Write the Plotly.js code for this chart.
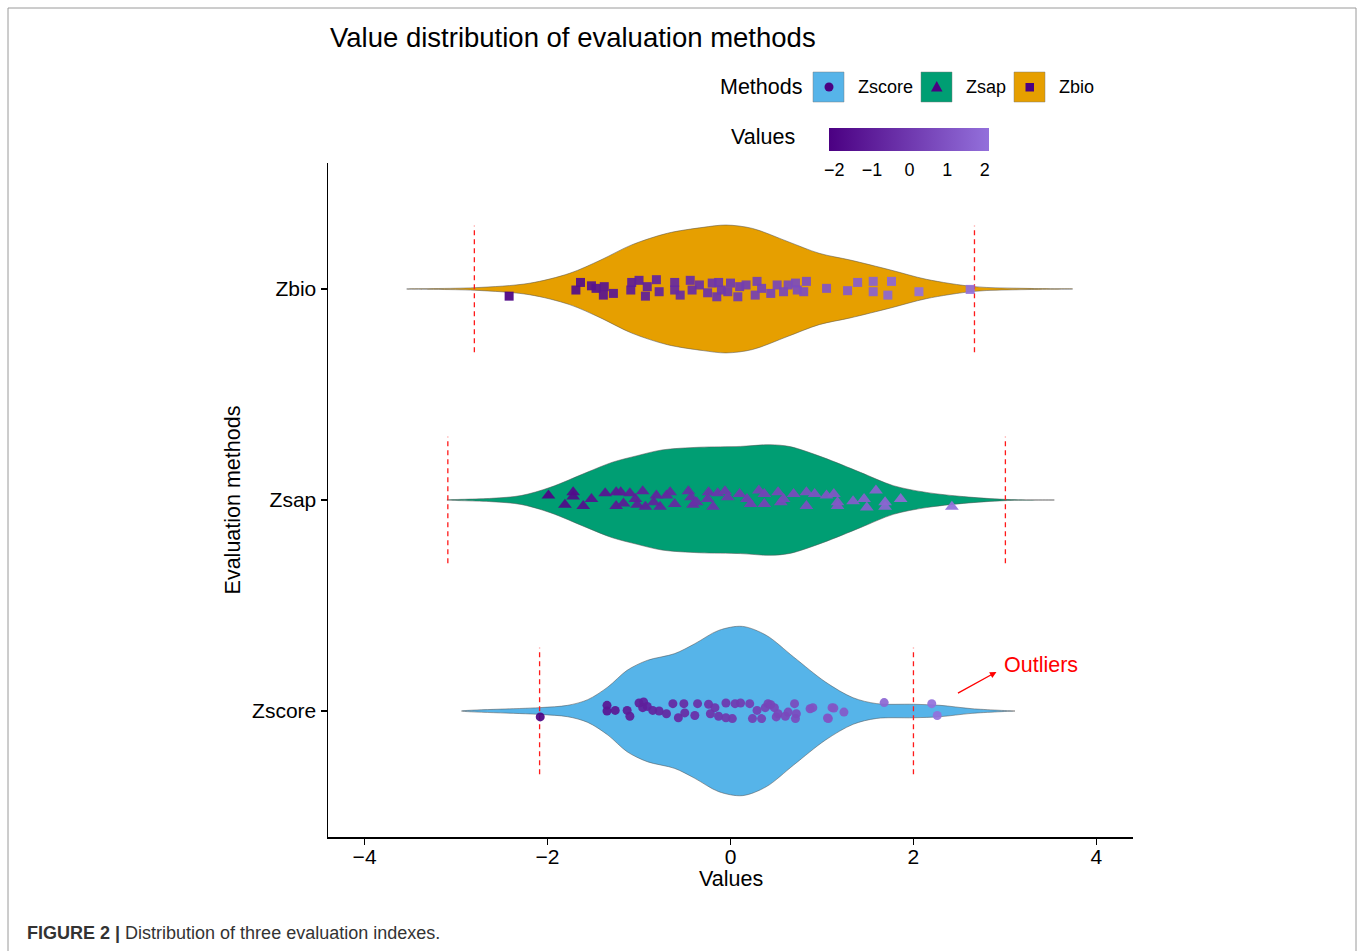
<!DOCTYPE html>
<html><head><meta charset="utf-8">
<script src="https://cdn.plot.ly/plotly-3.0.1.min.js"></script>
<style>html,body{margin:0;padding:0;background:#fff}#chart{width:1358px;height:951px}</style>
</head><body><div id="chart"></div>
<script>
// ---------- data ----------
const methods = ['Zscore', 'Zsap', 'Zbio'];
const fillColors = ['#56B4E9', '#009E73', '#E69F00'];
const symbols = ['circle', 'triangle-up', 'square'];

// outlier cut-offs (red dashed lines)
const cutLow  = [-2.087, -3.09, -2.80];
const cutHigh = [2.00, 3.005, 2.667];

// violin outline: value positions and half-widths (category units)
const zscoreProfX = [-2.94,-2.09,-1.78,-1.56,-1.34,-1.13,-0.91,-0.61,-0.39,-0.13,0.13,0.39,0.69,1.04,1.34,1.60,2.00,2.29,2.64,3.11];
const zscoreProfW = [0,0.016,0.027,0.054,0.114,0.193,0.240,0.272,0.319,0.382,0.401,0.359,0.256,0.137,0.063,0.035,0.032,0.027,0.011,0];
const zsapProfX = [-3.10,-2.61,-2.29,-1.97,-1.57,-1.29,-1.02,-0.75,-0.34,0.11,0.43,0.65,1.01,1.42,1.78,2.14,2.55,3.00,3.54];
const zsapProfW = [0,0.008,0.021,0.060,0.131,0.179,0.210,0.237,0.250,0.254,0.262,0.253,0.202,0.131,0.068,0.036,0.016,0.003,0];
const zbioProfX = [-3.54,-2.80,-2.20,-1.76,-1.42,-1.08,-0.69,-0.30,-0.05,0.24,0.63,0.97,1.31,1.75,2.14,2.67,3.22,3.74];
const zbioProfW = [0,0.006,0.027,0.074,0.137,0.209,0.264,0.292,0.303,0.287,0.224,0.169,0.137,0.090,0.046,0.011,0.003,0];

// observed points: value and vertical jitter
const zscoreVals = [-2.08,-1.35,-1.35,-1.26,-1.13,-1.10,-1.00,-0.95,-0.96,-0.91,-0.85,-0.78,-0.70,-0.63,-0.57,-0.51,-0.50,-0.39,-0.36,-0.24,-0.22,-0.17,-0.13,-0.05,-0.05,0.02,0.05,0.11,0.21,0.24,0.29,0.34,0.38,0.41,0.44,0.48,0.50,0.52,0.60,0.63,0.70,0.72,0.71,0.87,0.90,1.06,1.07,1.11,1.13,1.24,1.68,2.20,2.26];
const zscoreJit  = [-0.028,0.027,0.000,0.003,0.003,-0.025,0.038,0.043,0.016,0.022,0.003,0.000,-0.013,0.035,-0.032,0.035,-0.009,-0.021,0.035,0.032,-0.013,0.016,-0.025,0.038,-0.032,-0.036,0.035,0.038,0.035,-0.036,0.003,-0.036,0.016,0.035,0.030,0.016,-0.028,-0.013,-0.025,-0.005,0.035,-0.013,-0.036,0.011,0.016,-0.033,-0.036,0.016,0.014,-0.005,0.040,0.035,-0.021];

const zsapVals = [-1.99,-1.72,-1.72,-1.81,-1.61,-1.52,-1.37,-1.25,-1.20,-1.25,-1.17,-1.10,-1.04,-1.02,-0.96,-0.93,-0.81,-0.77,-0.84,-0.70,-0.66,-0.61,-0.46,-0.43,-0.41,-0.37,-0.24,-0.25,-0.19,-0.14,-0.06,-0.03,0.10,0.18,0.22,0.31,0.37,0.37,0.52,0.55,0.58,0.69,0.83,0.83,0.92,1.05,1.13,1.17,1.17,1.34,1.46,1.49,1.59,1.69,1.69,1.86,2.42];
const zsapJit  = [0.021,0.037,0.016,-0.023,-0.028,0.005,0.032,0.037,0.037,-0.028,-0.016,0.032,0.005,-0.023,0.042,-0.032,0.021,-0.032,-0.011,0.021,0.037,-0.019,0.042,0.013,-0.023,-0.011,0.037,0.005,-0.032,0.032,0.041,0.013,0.029,0.005,-0.019,0.045,0.029,-0.019,0.037,-0.011,0.005,0.029,0.037,-0.028,0.029,0.021,0.029,-0.011,-0.028,-0.006,0.005,-0.036,0.045,-0.011,-0.032,0.005,-0.032];

const zbioVals = [-2.42,-1.69,-1.64,-1.52,-1.47,-1.38,-1.39,-1.28,-1.08,-1.09,-1.00,-0.93,-0.91,-0.81,-0.78,-0.61,-0.61,-0.55,-0.44,-0.42,-0.34,-0.25,-0.20,-0.15,-0.13,-0.10,0.00,-0.03,0.08,0.10,0.17,0.27,0.29,0.34,0.44,0.51,0.58,0.63,0.71,0.73,0.83,0.80,1.05,1.28,1.39,1.56,1.56,1.72,1.76,2.06,2.62];
const zbioJit  = [-0.034,-0.005,0.031,0.015,0.003,0.011,-0.029,-0.021,0.031,-0.005,0.041,-0.034,0.011,0.044,-0.013,0.031,-0.005,-0.029,0.041,-0.005,0.019,-0.018,0.028,-0.037,0.031,-0.005,0.028,-0.013,-0.037,0.011,0.019,-0.029,0.036,0.003,-0.021,0.019,-0.013,0.019,0.028,-0.005,0.036,-0.013,0.003,-0.008,0.031,0.036,-0.013,-0.029,0.036,-0.013,-0.002];

const xTicks = [-4, -2, 0, 2, 4];
const colorTicks = [-2, -1, 0, 1, 2];

// ---------- styling ----------
const FONT = 'Liberation Sans, Arial, Helvetica, sans-serif';
const lowPurple = '#4B0082', highPurple = '#9370DB';
const cScale = [[0, lowPurple], [1, highPurple]];
const cMin = -2.14, cMax = 2.11;

const profX = [zscoreProfX, zsapProfX, zbioProfX];
const profW = [zscoreProfW, zsapProfW, zbioProfW];
const vals = [zscoreVals, zsapVals, zbioVals];
const jits = [zscoreJit, zsapJit, zbioJit];
const markerSizes = [9, 12, 9];

const traces = [];
// violins
methods.forEach((m, i) => {
  const c = i + 1;
  const xs = profX[i], ws = profW[i];
  const xr = xs.slice().reverse(), wr = ws.slice().reverse();
  traces.push({
    type: 'scatter', mode: 'lines', name: m,
    x: xs.concat(xr),
    y: ws.map(w => c + w).concat(wr.map(w => c - w)),
    fill: 'toself', fillcolor: fillColors[i],
    line: { color: 'rgba(80,80,80,0.75)', width: 0.7, shape: 'spline', smoothing: 0.9 },
    hoverinfo: 'skip', showlegend: false
  });
});
// cut-off lines
methods.forEach((m, i) => {
  const c = i + 1, h = 0.3;
  traces.push({
    type: 'scatter', mode: 'lines',
    x: [cutLow[i], cutLow[i], null, cutHigh[i], cutHigh[i]],
    y: [c - h, c + h, null, c - h, c + h],
    line: { color: '#FF1A1A', width: 1.3, dash: '5px,4px' },
    hoverinfo: 'skip', showlegend: false
  });
});
// points
methods.forEach((m, i) => {
  const c = i + 1;
  const t = {
    type: 'scatter', mode: 'markers', name: m,
    x: vals[i], y: jits[i].map(j => c + j),
    marker: {
      symbol: symbols[i], size: markerSizes[i], opacity: 0.92,
      color: vals[i], colorscale: cScale, cmin: cMin, cmax: cMax,
      line: { width: 0 }, showscale: false
    },
    showlegend: false
  };
  if (i === 2) {
    t.marker.showscale = true;
    t.marker.colorbar = {
      orientation: 'h', thickness: 23, len: 160, lenmode: 'pixels',
      x: (829 - 328) / 805, xanchor: 'left', y: (837 - 128) / 674, yanchor: 'top',
      xpad: 0, ypad: 0, outlinewidth: 0, ticks: 'outside', ticklen: 4, tickcolor: 'rgba(0,0,0,0)',
      tickvals: colorTicks, tickfont: { family: FONT, size: 18, color: '#000' },
      title: { text: '' }
    };
  }
  traces.push(t);
});

// ---------- helpers for layout positions (pixels -> paper) ----------
const PX = px => (px - 328) / 805;
const PY = py => (837 - py) / 674;

const shapes = [];
// figure frame
shapes.push({ type: 'rect', xref: 'paper', yref: 'paper', x0: PX(8), x1: PX(1356), y0: PY(990), y1: PY(8),
  line: { color: '#9a9a9a', width: 1 }, fillcolor: 'rgba(0,0,0,0)', layer: 'below' });
// legend keys
const keyLeft = [813, 921, 1014];
keyLeft.forEach((kx, i) => {
  shapes.push({ type: 'rect', xref: 'paper', yref: 'paper', x0: PX(kx), x1: PX(kx + 31), y0: PY(102), y1: PY(72),
    fillcolor: fillColors[i], line: { color: 'rgba(120,120,120,0.45)', width: 1 } });
});
// key glyphs
shapes.push({ type: 'circle', xref: 'paper', yref: 'paper', x0: PX(824.5), x1: PX(833.5), y0: PY(91.5), y1: PY(82.5),
  fillcolor: lowPurple, line: { width: 0 } });
shapes.push({ type: 'path', xref: 'paper', yref: 'paper',
  path: `M ${PX(931)},${PY(91.5)} L ${PX(942.5)},${PY(91.5)} L ${PX(936.75)},${PY(81)} Z`,
  fillcolor: lowPurple, line: { width: 0 } });
shapes.push({ type: 'rect', xref: 'paper', yref: 'paper', x0: PX(1025.5), x1: PX(1034), y0: PY(91.5), y1: PY(83),
  fillcolor: lowPurple, line: { width: 0 } });

const annotations = [
  { xref: 'paper', yref: 'paper', x: PX(718), y: PY(87), xanchor: 'left', yanchor: 'middle',
    text: 'Methods', showarrow: false, font: { family: FONT, size: 21.5, color: '#000' } },
  { xref: 'paper', yref: 'paper', x: PX(856), y: PY(87), xanchor: 'left', yanchor: 'middle',
    text: methods[0], showarrow: false, font: { family: FONT, size: 18, color: '#000' } },
  { xref: 'paper', yref: 'paper', x: PX(964), y: PY(87), xanchor: 'left', yanchor: 'middle',
    text: methods[1], showarrow: false, font: { family: FONT, size: 18, color: '#000' } },
  { xref: 'paper', yref: 'paper', x: PX(1057), y: PY(87), xanchor: 'left', yanchor: 'middle',
    text: methods[2], showarrow: false, font: { family: FONT, size: 18, color: '#000' } },
  { xref: 'paper', yref: 'paper', x: PX(729), y: PY(137), xanchor: 'left', yanchor: 'middle',
    text: 'Values', showarrow: false, font: { family: FONT, size: 21.5, color: '#000' } },
  // x-axis title
  { xref: 'paper', yref: 'paper', x: PX(731), y: PY(879), xanchor: 'center', yanchor: 'middle',
    text: 'Values', showarrow: false, font: { family: FONT, size: 21.5, color: '#000' } },
  // outliers label + arrow
  { xref: 'x', yref: 'y', x: 2.973, y: 1.218, xanchor: 'left', yanchor: 'middle',
    text: 'Outliers', showarrow: false, font: { family: FONT, size: 21.5, color: '#FF0000' } },
  { xref: 'x', yref: 'y', x: 2.907, y: 1.185, axref: 'x', ayref: 'y', ax: 2.47, ay: 1.081,
    text: '', showarrow: true, arrowhead: 2, arrowsize: 1, arrowwidth: 1.3, arrowcolor: '#FF0000',
    standoff: 0, startstandoff: 0, font: { size: 1 } },
  // caption
  { xref: 'paper', yref: 'paper', x: PX(25), y: PY(933), xanchor: 'left', yanchor: 'middle',
    text: '<b>FIGURE 2 |</b> Distribution of three evaluation indexes.', showarrow: false,
    font: { family: FONT, size: 18, color: '#333' } }
];

const layout = {
  width: 1358, height: 951,
  margin: { l: 328, r: 225, t: 163, b: 114, pad: 0 },
  paper_bgcolor: '#fff', plot_bgcolor: '#fff',
  font: { family: FONT, color: '#000' },
  showlegend: false,
  title: { text: 'Value distribution of evaluation methods', x: PX(330), xref: 'paper', xanchor: 'left',
    y: 1 - 37 / 951, yref: 'container', yanchor: 'middle', font: { family: FONT, size: 27.5, color: '#000' } },
  xaxis: {
    range: [-4.4, 4.4], tickvals: xTicks, showgrid: false, zeroline: false,
    showline: true, linecolor: '#000', linewidth: 1.5, ticks: 'outside', ticklen: 6, tickwidth: 1.2, tickcolor: '#000',
    ticklabelstandoff: -6,
    tickfont: { family: FONT, size: 21, color: '#000' },
    title: { text: '' },
    automargin: false, fixedrange: true
  },
  yaxis: {
    range: [0.403, 3.597], tickvals: [1, 2, 3], ticktext: methods, showgrid: false, zeroline: false,
    showline: true, linecolor: '#000', linewidth: 1.5, ticks: 'outside', ticklen: 6, tickwidth: 1.2, tickcolor: '#000',
    tickfont: { family: FONT, size: 21, color: '#000' },
    title: { text: 'Evaluation methods', font: { family: FONT, size: 21.5, color: '#000' }, standoff: 5 },
    automargin: false, fixedrange: true
  },
  shapes: shapes,
  annotations: annotations
};

Plotly.newPlot('chart', traces, layout, { displayModeBar: false, staticPlot: true });
</script></body></html>
